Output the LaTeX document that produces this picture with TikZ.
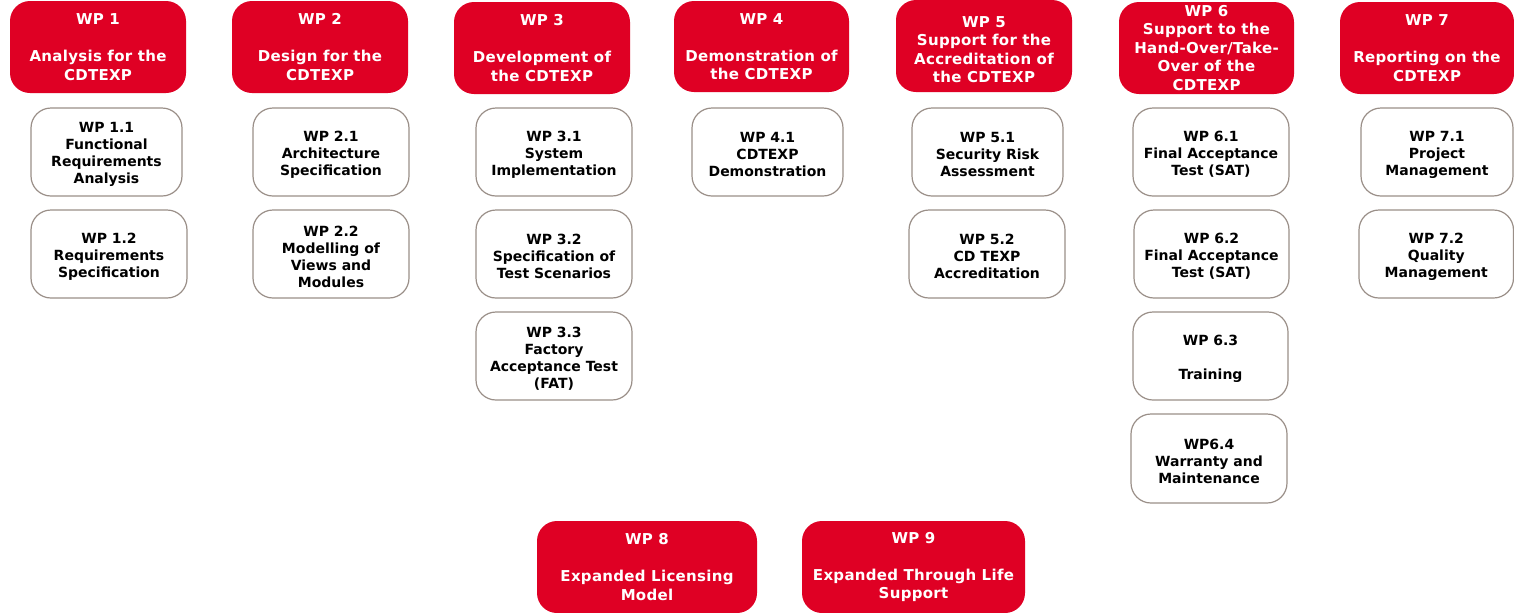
\documentclass[tikz,border=0pt]{standalone}
\usepackage{fontspec}
\setmainfont{DejaVu Sans}
\definecolor{wpred}{HTML}{DF0024}
\definecolor{wpgray}{HTML}{9A8F88}
\newcommand\toppad{\rule{0pt}{11.8pt}}
\tikzset{
  hdr/.style={rectangle, rounded corners=15pt, fill=wpred, text=white,
    font=\bfseries\fontsize{11.25}{13.9}\selectfont\addfontfeature{LetterSpace=2.0}, align=center, inner sep=0pt},
  sub/.style={rectangle, rounded corners=15pt, draw=wpgray, line width=0.9pt, fill=white, text=black,
    font=\bfseries\fontsize{10.5}{12.75}\selectfont, align=center, inner sep=0pt}
}
\newcommand\wpbox[7]{\node[#2, minimum width={(#5-#3)*0.75pt}, minimum height={(#6-#4)*0.75pt}] (#1) at ({(#3+#5)/2},{(#4+#6)/2}) {#7};}
\begin{document}
\begin{tikzpicture}[x=0.75pt,y=-0.75pt]
\clip (0,0) rectangle (1514,612);
\fill[white] (0,0) rectangle (1514,612);
% headers
\wpbox{h1}{hdr}{10}{1}{186}{93}{WP 1\\[13.9pt]Analysis for the\\CDTEXP}
\wpbox{h2}{hdr}{232}{1}{408}{93}{WP 2\\[13.9pt]Design for the\\CDTEXP}
\wpbox{h3}{hdr}{454}{2}{630}{94}{WP 3\\[13.9pt]Development of\\the CDTEXP}
\wpbox{h4}{hdr}{674}{1}{849}{92}{WP 4\\[13.9pt]Demonstration of\\the CDTEXP}
\wpbox{h5}{hdr}{896}{0}{1072}{92}{\mbox{}\\WP 5\\Support for the\\Accreditation of\\the CDTEXP}
\wpbox{h6}{hdr}{1119}{2}{1294}{94}{WP 6\\Support to the\\Hand-Over/Take-\\Over of the\\CDTEXP}
\wpbox{h7}{hdr}{1340}{2}{1514}{94}{WP 7\\[13.9pt]Reporting on the\\CDTEXP}
\wpbox{h8}{hdr}{537}{521}{757}{613}{WP 8\\[13.9pt]Expanded Licensing\\Model}
\wpbox{h9}{hdr}{802}{521}{1025}{613}{WP 9\\[13.9pt]Expanded Through Life\\Support}
% sub work packages
\wpbox{s11}{sub}{31}{108}{182}{196}{\toppad WP 1.1\\Functional\\Requirements\\Analysis}
\wpbox{s12}{sub}{31}{210}{187}{298}{\toppad WP 1.2\\Requirements\\Specification}
\wpbox{s21}{sub}{253}{108}{409}{196}{\toppad WP 2.1\\Architecture\\Specification}
\wpbox{s22}{sub}{253}{210}{409}{298}{\toppad WP 2.2\\Modelling of\\Views and\\Modules}
\wpbox{s31}{sub}{476}{108}{632}{196}{\toppad WP 3.1\\System\\Implementation}
\wpbox{s32}{sub}{476}{210}{632}{298}{\toppad WP 3.2\\Specification of\\Test Scenarios}
\wpbox{s33}{sub}{476}{312}{632}{400}{\toppad WP 3.3\\Factory\\Acceptance Test\\(FAT)}
\wpbox{s41}{sub}{692}{108}{843}{196}{\toppad WP 4.1\\CDTEXP\\Demonstration}
\wpbox{s51}{sub}{912}{108}{1063}{196}{\toppad WP 5.1\\Security Risk\\Assessment}
\wpbox{s52}{sub}{909}{210}{1065}{298}{\toppad WP 5.2\\CD TEXP\\Accreditation}
\wpbox{s61}{sub}{1133}{108}{1289}{196}{\toppad WP 6.1\\Final Acceptance\\Test (SAT)}
\wpbox{s62}{sub}{1134}{210}{1289}{298}{\toppad WP 6.2\\Final Acceptance\\Test (SAT)}
\wpbox{s63}{sub}{1133}{312}{1288}{400}{\toppad WP 6.3\\[12.75pt]Training}
\wpbox{s64}{sub}{1131}{414}{1287}{503}{\toppad WP6.4\\Warranty and\\Maintenance}
\wpbox{s71}{sub}{1361}{108}{1513}{196}{\toppad WP 7.1\\Project\\Management}
\wpbox{s72}{sub}{1359}{210}{1513.5}{298}{\toppad WP 7.2\\Quality\\Management}
\end{tikzpicture}
\end{document}
